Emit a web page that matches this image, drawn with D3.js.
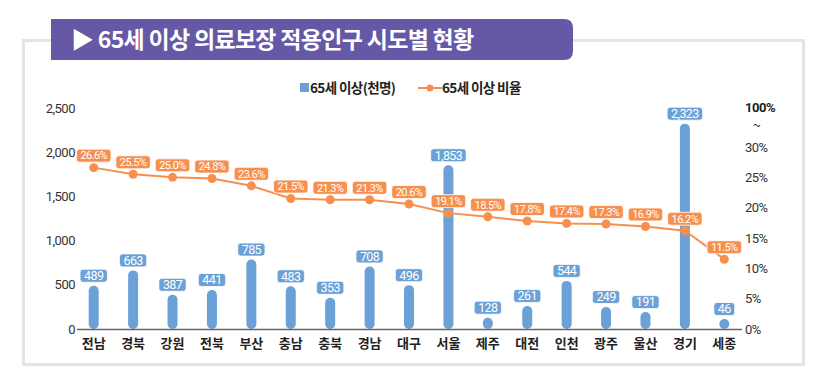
<!DOCTYPE html>
<html>
<head>
<meta charset="utf-8">
<script src="https://cdn.jsdelivr.net/npm/d3@7"></script>
<style>
  body { margin: 0; background: #fff; }
  text { font-family: "Noto Sans CJK KR", "Noto Sans", sans-serif; }
</style>
</head>
<body>
<script>
// Data
var regions = ["전남", "경북", "강원", "전북", "부산", "충남", "충북", "경남", "대구", "서울", "제주", "대전", "인천", "광주", "울산", "경기", "세종"];
var elderly = [489, 663, 387, 441, 785, 483, 353, 708, 496, 1853, 128, 261, 544, 249, 191, 2323, 46];
var ratio = [26.6, 25.5, 25.0, 24.8, 23.6, 21.5, 21.3, 21.3, 20.6, 19.1, 18.5, 17.8, 17.4, 17.3, 16.9, 16.2, 11.5];
var leftTicks = [0, 500, 1000, 1500, 2000, 2500];
var rightTicks = [0, 5, 10, 15, 20, 25, 30];

var title = "▶ 65세 이상 의료보장 적용인구 시도별 현황";
var legendNames = ["65세 이상(천명)", "65세 이상 비율"];

var width = 821, height = 381;
var blue = "#6ba1d6", orange = "#f7904f", purple = "#6658a6";

var svg = d3.select("body").append("svg")
    .attr("width", width)
    .attr("height", height);

/* ---------- frame + title tab ---------- */
svg.append("rect")
    .attr("x", 23.5).attr("y", 40.5)
    .attr("width", 780).attr("height", 324)
    .attr("fill", "none")
    .attr("stroke", "#e4e4e8")
    .attr("stroke-width", 3);

// tab: square on the left, rounded on the right
var tx = 51, ty = 19, tw = 522, th = 41, r = 9;
svg.append("path")
    .attr("d", "M" + tx + "," + ty + "H" + (tx + tw - r) +
      "Q" + (tx + tw) + "," + ty + " " + (tx + tw) + "," + (ty + r) +
      "V" + (ty + th - r) +
      "Q" + (tx + tw) + "," + (ty + th) + " " + (tx + tw - r) + "," + (ty + th) +
      "H" + tx + "Z")
    .attr("fill", purple);

svg.append("text")
    .attr("x", 71).attr("y", 48)
    .attr("fill", "#fff")
    .attr("font-size", 23)
    .attr("font-weight", 700)
    .attr("letter-spacing", -0.7)
    .text(title);

/* ---------- scales ---------- */
var x = d3.scaleBand().domain(regions).range([74, 744]);
var yLeft = d3.scaleLinear().domain([0, 2500]).range([329, 108]);
var yRight = d3.scaleLinear().domain([0, 30]).range([329, 147]);

/* ---------- axes ---------- */
var leftAxis = svg.append("g")
    .attr("transform", "translate(76,0)")
    .call(d3.axisLeft(yLeft).tickValues(leftTicks).tickSize(0).tickPadding(1)
      .tickFormat(d3.format(",")));

var rightAxis = svg.append("g")
    .attr("transform", "translate(743,0)")
    .call(d3.axisRight(yRight).tickValues(rightTicks).tickSize(0).tickPadding(2)
      .tickFormat(function(d) { return d + "%"; }));

[leftAxis, rightAxis].forEach(function(a) {
  a.select(".domain").remove();
  a.selectAll("text")
    .attr("font-size", 13)
    .attr("fill", "#333")
    .attr("letter-spacing", -0.5)
    .style("font-family", "Roboto, sans-serif");
});

// the broken top of the right axis
svg.append("text")
    .attr("x", 745).attr("y", yLeft(2500)).attr("dy", "0.32em")
    .attr("font-size", 13).attr("font-weight", 700).attr("fill", "#222")
    .attr("letter-spacing", -0.5)
    .style("font-family", "Roboto, sans-serif")
    .text("100%");
svg.append("text")
    .attr("x", 757).attr("y", 127).attr("dy", "0.32em")
    .attr("text-anchor", "middle")
    .attr("font-size", 14).attr("fill", "#333")
    .text("~");

var bottomAxis = svg.append("g")
    .attr("transform", "translate(0,329)")
    .call(d3.axisBottom(x).tickSize(0).tickPadding(10));
bottomAxis.select(".domain").remove();
bottomAxis.selectAll("text")
    .attr("font-size", 13)
    .attr("font-weight", 700)
    .attr("fill", "#222");

/* ---------- bars ---------- */
var barW = 10;
var barTop = function(d) { return Math.min(yLeft(d), 329 - barW); };
svg.selectAll(".bar")
    .data(elderly)
    .enter().append("rect")
      .attr("class", "bar")
      .attr("x", function(d, i) { return x(regions[i]) + x.bandwidth() / 2 - barW / 2; })
      .attr("y", barTop)
      .attr("width", barW)
      .attr("height", function(d) { return 329 - barTop(d); })
      .attr("rx", barW / 2)
      .attr("ry", barW / 2)
      .attr("fill", blue);

// baseline
svg.append("line")
    .attr("x1", 77).attr("x2", 742)
    .attr("y1", 329.5).attr("y2", 329.5)
    .attr("stroke", "#666")
    .attr("stroke-width", 1.5);

/* ---------- line ---------- */
var line = d3.line()
    .x(function(d, i) { return x(regions[i]) + x.bandwidth() / 2; })
    .y(function(d) { return yRight(d); });

svg.append("path")
    .datum(ratio)
    .attr("fill", "none")
    .attr("stroke", orange)
    .attr("stroke-width", 2)
    .attr("d", line);

svg.selectAll(".dot")
    .data(ratio)
    .enter().append("circle")
      .attr("class", "dot")
      .attr("cx", function(d, i) { return x(regions[i]) + x.bandwidth() / 2; })
      .attr("cy", function(d) { return yRight(d); })
      .attr("r", 4.5)
      .attr("fill", orange);

/* ---------- value labels ---------- */
function addLabel(cx, cy, txt, color, size) {
  var g = svg.append("g");
  var rect = g.append("rect").attr("fill", color).attr("stroke", "#fff").attr("stroke-width", 0.8);
  var t = g.append("text")
      .attr("x", cx).attr("y", cy).attr("dy", "0.35em")
      .attr("text-anchor", "middle")
      .attr("fill", "#fff")
      .attr("font-size", size)
      .attr("letter-spacing", -0.6)
      .style("font-family", "Roboto, sans-serif")
      .text(txt);
  var w = t.node().getComputedTextLength() + 8;
  rect.attr("x", cx - w / 2).attr("y", cy - 6.5)
      .attr("width", w).attr("height", 13).attr("rx", 3);
}

elderly.forEach(function(d, i) {
  var cx = x(regions[i]) + x.bandwidth() / 2;
  addLabel(cx, barTop(d) - 10, d3.format(",")(d), blue, 12.5);
});

ratio.forEach(function(d, i) {
  var cx = x(regions[i]) + x.bandwidth() / 2;
  addLabel(cx, yRight(d) - 12, d.toFixed(1) + "%", orange, 11);
});

/* ---------- legend ---------- */
var legend = svg.append("g").attr("transform", "translate(300,88)");
legend.append("rect")
    .attr("x", 0).attr("y", -5).attr("width", 9).attr("height", 9)
    .attr("fill", blue);
legend.append("text")
    .attr("x", 10).attr("y", 0).attr("dy", "0.35em")
    .attr("font-size", 13.5).attr("font-weight", 700).attr("fill", "#222")
    .attr("letter-spacing", -0.6)
    .text(legendNames[0]);
legend.append("line")
    .attr("x1", 118).attr("x2", 142).attr("y1", 0).attr("y2", 0)
    .attr("stroke", orange).attr("stroke-width", 2);
legend.append("circle")
    .attr("cx", 130).attr("cy", 0).attr("r", 3.5)
    .attr("fill", orange);
legend.append("text")
    .attr("x", 142).attr("y", 0).attr("dy", "0.35em")
    .attr("font-size", 13.5).attr("font-weight", 700).attr("fill", "#222")
    .attr("letter-spacing", -0.6)
    .text(legendNames[1]);
</script>
</body>
</html>
